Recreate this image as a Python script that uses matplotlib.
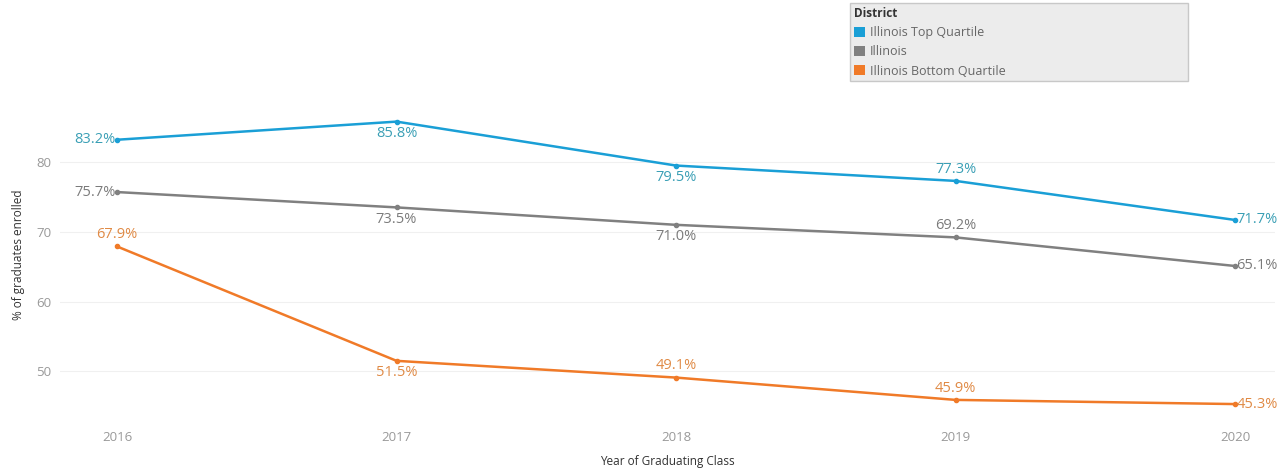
import matplotlib
matplotlib.use("Agg")
import matplotlib.pyplot as plt
from matplotlib.patches import Patch

plt.rcParams['font.family'] = ['Open Sans', 'DejaVu Sans']

# data
years = [2016, 2017, 2018, 2019, 2020]
top_quartile = [83.2, 85.8, 79.5, 77.3, 71.7]
illinois = [75.7, 73.5, 71.0, 69.2, 65.1]
bottom_quartile = [67.9, 51.5, 49.1, 45.9, 45.3]
series_names = ['Illinois Top Quartile', 'Illinois', 'Illinois Bottom Quartile']
y_ticks = [50, 60, 70, 80]

line_colors = ['#1a9fd6', '#808080', '#f07a28']
label_colors = ['#3a9fb5', '#7b7b7b', '#e08a45']

# label placement per point: 'l' left, 'r' right, 'a' above, 'b' below
placements = [
    ['l', 'b', 'b', 'a', 'r'],
    ['l', 'b', 'b', 'a', 'r'],
    ['a', 'b', 'a', 'a', 'r'],
]

fig = plt.figure(figsize=(12.78, 4.70), dpi=100)
ax = fig.add_axes([60 / 1278, 1 - 425 / 470, 1215 / 1278, 340 / 470])

all_series = [top_quartile, illinois, bottom_quartile]
for vals, name, lc, tc, pl in zip(all_series, series_names, line_colors, label_colors, placements):
    ax.plot(years, vals, color=lc, lw=1.8, marker='o', ms=3, label=name, zorder=3)
    for x, y, p in zip(years, vals, pl):
        txt = f'{y:.1f}%'
        if p == 'l':
            ax.annotate(txt, (x, y), xytext=(-1, 0), textcoords='offset points',
                        ha='right', va='center', color=tc, fontsize=10.5)
        elif p == 'r':
            ax.annotate(txt, (x, y), xytext=(1, 0), textcoords='offset points',
                        ha='left', va='center', color=tc, fontsize=10.5)
        elif p == 'a':
            ax.annotate(txt, (x, y), xytext=(0, 3), textcoords='offset points',
                        ha='center', va='bottom', color=tc, fontsize=10.5)
        else:
            ax.annotate(txt, (x, y), xytext=(0, -3), textcoords='offset points',
                        ha='center', va='top', color=tc, fontsize=10.5)

ax.set_xlim(2015.796, 2020.143)
ax.set_ylim(42.3, 91.05)
ax.set_xticks(years)
ax.set_yticks(y_ticks)
ax.tick_params(axis='both', length=0, colors='#999999', labelsize=9.5)
ax.tick_params(axis='x', pad=4)
ax.tick_params(axis='y', pad=6)
ax.grid(axis='y', color='#f0f0f0', lw=0.8)
for s in ax.spines.values():
    s.set_visible(False)

ax.set_xlabel('Year of Graduating Class', fontsize=8.5, color='#333333', labelpad=8)
ax.set_ylabel('% of graduates enrolled', fontsize=8.5, color='#333333', labelpad=8)

handles = [Patch(facecolor=c, edgecolor='none') for c in line_colors]
leg = fig.legend(handles, series_names, title='District', loc='upper left',
                 bbox_to_anchor=(850 / 1278, 1 - 82 / 470, 338 / 1278, 79 / 470),
                 mode='expand', fontsize=9, title_fontsize=8.5, alignment='left',
                 frameon=True, fancybox=False, facecolor='#e8e8e8', edgecolor='#bdbdbd',
                 handlelength=0.9, handleheight=0.9, handletextpad=0.4,
                 labelspacing=0.5, borderpad=0.3, borderaxespad=0)
leg.get_title().set_fontweight('bold')
leg.get_title().set_color('#333333')
for t in leg.get_texts():
    t.set_color('#666666')
leg.get_frame().set_linewidth(1.0)

fig.savefig('out.png', dpi=100, facecolor='white')
